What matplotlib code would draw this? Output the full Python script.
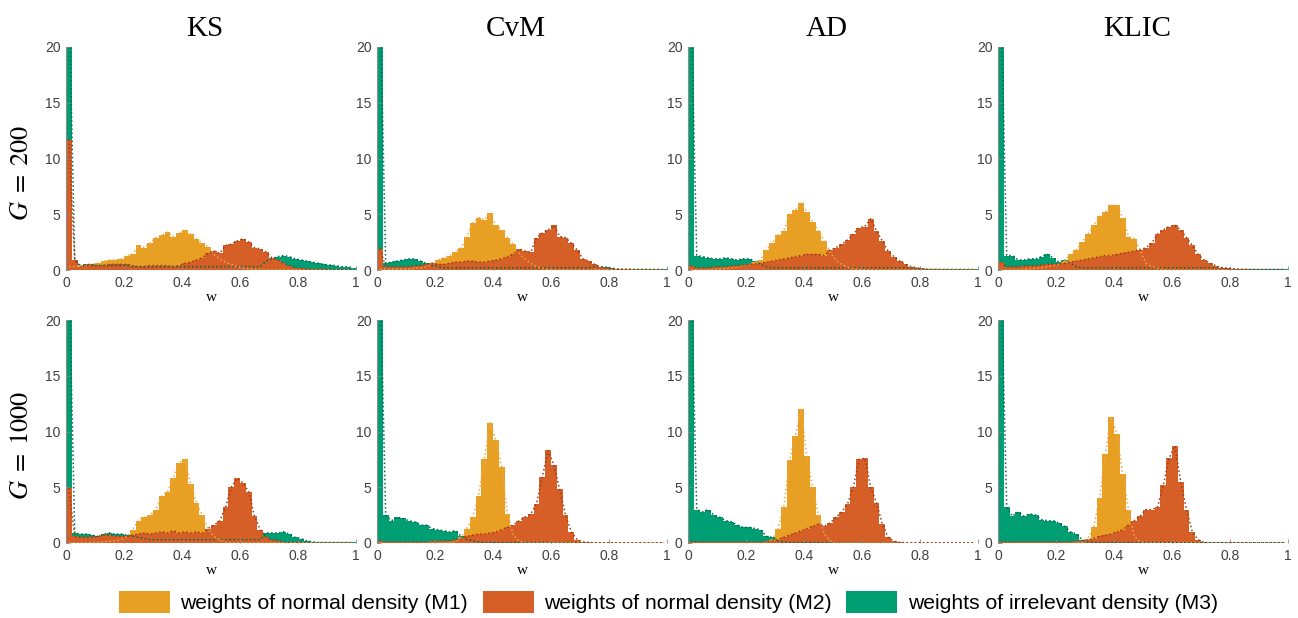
import numpy as np
import matplotlib
matplotlib.use('Agg')
import matplotlib.pyplot as plt
from matplotlib.patches import Patch

# histogram bin heights, 50 bins of width 0.02 on [0, 1]
# G = 200
ks200_m1 = [0.3, 0.3, 0.35, 0.4, 0.5, 0.6, 0.8, 0.9, 0.9, 1.0,
            1.3, 1.4, 2.2, 2.0, 2.4, 2.9, 3.1, 3.4, 3.0, 3.3,
            3.6, 3.2, 2.8, 2.4, 2.1, 1.4, 1.0, 0.7, 0.5, 0.3,
            0.2, 0.1, 0.05, 0.02, 0, 0, 0, 0, 0, 0,
            0, 0, 0, 0, 0, 0, 0, 0, 0, 0]
ks200_m2 = [11.7, 0.9, 0.3, 0.5, 0.5, 0.4, 0.4, 0.5, 0.5, 0.5,
            0.5, 0.4, 0.3, 0.3, 0.4, 0.4, 0.4, 0.4, 0.3, 0.4,
            0.6, 0.7, 0.9, 1.1, 1.5, 1.7, 1.5, 2.2, 2.3, 2.6,
            2.8, 2.5, 2.0, 1.9, 1.6, 1.1, 0.9, 0.6, 0.4, 0.2,
            0.15, 0.1, 0.05, 0.05, 0.05, 0.03, 0.03, 0.02, 0.02, 0.02]
ks200_m3 = [25, 0.9, 0.4, 0.4, 0.4, 0.4, 0.4, 0.4, 0.4, 0.4,
            0.4, 0.3, 0.3, 0.3, 0.3, 0.3, 0.3, 0.3, 0.3, 0.3,
            0.3, 0.3, 0.3, 0.3, 0.3, 0.3, 0.3, 0.3, 0.3, 0.3,
            0.3, 0.3, 0.3, 0.3, 0.8, 1.0, 1.2, 1.3, 1.2, 1.0,
            0.9, 0.8, 0.7, 0.6, 0.5, 0.45, 0.4, 0.3, 0.3, 0.2]

cvm200_m1 = [0.05, 0.05, 0.05, 0.1, 0.1, 0.1, 0.15, 0.2, 0.3, 0.6,
             0.9, 1.1, 1.3, 1.6, 2.0, 3.0, 4.2, 4.7, 4.5, 5.1,
             4.0, 3.6, 2.9, 2.3, 1.5, 1.0, 0.6, 0.3, 0.15, 0.05,
             0, 0, 0, 0, 0, 0, 0, 0, 0, 0,
             0, 0, 0, 0, 0, 0, 0, 0, 0, 0]
cvm200_m2 = [1.9, 0.3, 0.3, 0.3, 0.3, 0.3, 0.4, 0.4, 0.5, 0.6,
             0.5, 0.5, 0.6, 0.7, 0.7, 0.8, 0.8, 0.7, 0.7, 0.8,
             0.9, 1.0, 1.2, 1.4, 1.9, 1.7, 1.6, 2.9, 3.3, 3.6,
             4.0, 3.0, 2.9, 2.4, 1.8, 1.0, 0.8, 0.5, 0.3, 0.2,
             0.1, 0.05, 0.05, 0.05, 0.03, 0.03, 0.03, 0.02, 0.02, 0.02]
cvm200_m3 = [25, 0.6, 0.7, 0.8, 0.9, 1.0, 1.0, 0.8, 0.6, 0.4,
             0.3, 0.2, 0.2, 0.2, 0.2, 0.2, 0.2, 0.2, 0.2, 0.2,
             0.2, 0.2, 0.2, 0.2, 0.2, 0.2, 0.2, 0.2, 0.2, 0.2,
             0.2, 0.2, 0.2, 0.2, 0.2, 0.2, 0.2, 0.3, 0.3, 0.25,
             0.15, 0.1, 0.05, 0.05, 0.05, 0.05, 0.05, 0.05, 0.05, 0.05]

ad200_m1 = [0, 0, 0, 0, 0.05, 0.1, 0.15, 0.2, 0.3, 0.4,
            0.5, 0.7, 0.9, 1.8, 2.4, 3.1, 3.5, 5.0, 5.4, 6.0,
            5.2, 4.3, 3.5, 2.6, 1.6, 0.9, 0.5, 0.25, 0.1, 0.05,
            0, 0, 0, 0, 0, 0, 0, 0, 0, 0,
            0, 0, 0, 0, 0, 0, 0, 0, 0, 0]
ad200_m2 = [0.4, 0.2, 0.2, 0.2, 0.25, 0.3, 0.3, 0.35, 0.4, 0.45,
            0.5, 0.55, 0.6, 0.7, 0.8, 0.9, 1.0, 1.1, 1.2, 1.3,
            1.4, 1.4, 1.4, 1.3, 1.8, 2.0, 2.3, 2.7, 3.2, 3.8,
            3.9, 4.6, 3.5, 2.6, 1.7, 1.2, 0.8, 0.5, 0.3, 0.2,
            0.1, 0.05, 0.05, 0.03, 0.03, 0.02, 0.02, 0.02, 0.02, 0.02]
ad200_m3 = [25, 1.3, 1.2, 1.1, 1.0, 1.0, 1.1, 1.0, 0.9, 1.0,
            1.0, 0.8, 0.5, 0.3, 0.2, 0.2, 0.2, 0.2, 0.2, 0.2,
            0.2, 0.2, 0.2, 0.2, 0.2, 0.2, 0.2, 0.2, 0.2, 0.2,
            0.2, 0.2, 0.2, 0.2, 0.2, 0.2, 0.2, 0.2, 0.2, 0.15,
            0.1, 0.05, 0.05, 0.05, 0.05, 0.05, 0.05, 0.05, 0.05, 0.05]

klic200_m1 = [0, 0, 0, 0, 0.05, 0.1, 0.15, 0.2, 0.3, 0.4,
              0.5, 0.8, 1.4, 1.8, 2.5, 3.2, 4.0, 4.8, 5.2, 5.8,
              5.8, 4.7, 3.0, 2.8, 1.8, 0.6, 0.3, 0.15, 0.05, 0,
              0, 0, 0, 0, 0, 0, 0, 0, 0, 0,
              0, 0, 0, 0, 0, 0, 0, 0, 0, 0]
klic200_m2 = [0.7, 0.3, 0.3, 0.3, 0.35, 0.4, 0.4, 0.45, 0.5, 0.5,
              0.55, 0.6, 0.7, 0.8, 0.9, 1.0, 1.1, 1.2, 1.3, 1.3,
              1.4, 1.5, 1.6, 1.7, 1.8, 2.0, 2.4, 3.2, 3.6, 3.9,
              4.0, 3.6, 2.9, 2.2, 1.4, 0.9, 0.6, 0.4, 0.2, 0.15,
              0.1, 0.05, 0.05, 0.03, 0.03, 0.02, 0.02, 0.02, 0.02, 0.02]
klic200_m3 = [25, 1.3, 1.3, 0.9, 0.9, 1.0, 1.0, 1.2, 1.4, 1.1,
              0.7, 0.9, 0.6, 0.3, 0.2, 0.2, 0.2, 0.2, 0.2, 0.2,
              0.2, 0.2, 0.2, 0.2, 0.2, 0.2, 0.2, 0.2, 0.2, 0.2,
              0.2, 0.2, 0.2, 0.2, 0.2, 0.2, 0.2, 0.2, 0.2, 0.15,
              0.1, 0.05, 0.05, 0.05, 0.05, 0.05, 0.05, 0.05, 0.05, 0.05]

# G = 1000
ks1000_m1 = [0, 0, 0, 0, 0.05, 0.05, 0.1, 0.15, 0.2, 0.3,
             0.6, 1.2, 2.0, 2.3, 2.5, 3.0, 4.2, 4.6, 5.8, 7.2,
             7.5, 5.3, 3.6, 2.5, 1.3, 0.6, 0.25, 0.1, 0, 0,
             0, 0, 0, 0, 0, 0, 0, 0, 0, 0,
             0, 0, 0, 0, 0, 0, 0, 0, 0, 0]
ks1000_m2 = [4.9, 0.6, 0.5, 0.5, 0.5, 0.6, 0.7, 0.7, 0.6, 0.6,
             0.6, 0.7, 0.8, 0.9, 0.8, 0.9, 1.0, 0.9, 1.1, 0.9,
             1.0, 0.9, 1.0, 0.9, 1.3, 1.6, 2.0, 3.2, 5.0, 5.8,
             5.4, 4.6, 2.4, 1.2, 0.5, 0.3, 0.2, 0.1, 0.05, 0.05,
             0.05, 0.03, 0.03, 0.02, 0.02, 0.02, 0.02, 0.02, 0.02, 0.02]
ks1000_m3 = [25, 0.9, 0.8, 0.8, 0.7, 0.6, 0.8, 0.9, 0.8, 0.8,
             0.7, 0.6, 0.5, 0.4, 0.3, 0.3, 0.3, 0.3, 0.3, 0.3,
             0.3, 0.3, 0.3, 0.3, 0.3, 0.3, 0.3, 0.3, 0.3, 0.3,
             0.3, 0.3, 0.3, 0.3, 0.9, 0.9, 0.9, 1.0, 0.8, 0.5,
             0.4, 0.2, 0.1, 0.05, 0.05, 0.05, 0.05, 0.05, 0.05, 0.05]

cvm1000_m1 = [0, 0, 0, 0, 0, 0, 0, 0, 0, 0,
              0, 0, 0.05, 0.1, 0.5, 1.3, 2.3, 4.2, 7.5, 10.8,
              9.2, 6.8, 2.6, 0.7, 0.2, 0, 0, 0, 0, 0,
              0, 0, 0, 0, 0, 0, 0, 0, 0, 0,
              0, 0, 0, 0, 0, 0, 0, 0, 0, 0]
cvm1000_m2 = [0.2, 0.1, 0.1, 0.1, 0.1, 0.1, 0.1, 0.1, 0.1, 0.15,
              0.15, 0.2, 0.2, 0.3, 0.4, 0.6, 0.7, 0.8, 0.8, 0.9,
              1.0, 1.2, 1.4, 1.6, 2.0, 2.3, 2.6, 3.5, 5.9, 8.3,
              7.0, 4.8, 2.5, 1.0, 0.3, 0.1, 0.05, 0.03, 0.02, 0.02,
              0.02, 0.02, 0.02, 0.02, 0.02, 0.02, 0.02, 0.02, 0.02, 0.02]
cvm1000_m3 = [25, 2.5, 2.0, 2.3, 2.2, 2.0, 1.9, 1.6, 1.6, 1.3,
              1.2, 1.1, 1.0, 1.1, 0.6, 0.3, 0.2, 0.1, 0.05, 0.05,
              0.05, 0.05, 0.05, 0.05, 0.05, 0.05, 0.05, 0.05, 0.05, 0.05,
              0.02, 0.02, 0.02, 0.02, 0.02, 0.02, 0.02, 0.02, 0.02, 0.02,
              0.02, 0.02, 0.02, 0.02, 0.02, 0.02, 0.02, 0.02, 0.02, 0.02]

ad1000_m1 = [0, 0, 0, 0, 0, 0, 0, 0, 0, 0,
             0, 0, 0, 0.05, 0.3, 1.3, 3.2, 7.4, 9.6, 12.0,
             7.8, 5.0, 2.5, 0.8, 0.2, 0, 0, 0, 0, 0,
             0, 0, 0, 0, 0, 0, 0, 0, 0, 0,
             0, 0, 0, 0, 0, 0, 0, 0, 0, 0]
ad1000_m2 = [0.1, 0.1, 0.1, 0.1, 0.1, 0.1, 0.1, 0.1, 0.1, 0.1,
             0.1, 0.1, 0.1, 0.15, 0.2, 0.3, 0.5, 0.7, 0.9, 1.1,
             1.3, 1.5, 1.7, 1.5, 1.8, 2.3, 2.8, 3.5, 5.0, 7.5,
             7.6, 5.0, 3.6, 1.7, 0.5, 0.15, 0.05, 0.03, 0.02, 0.02,
             0.02, 0.02, 0.02, 0.02, 0.02, 0.02, 0.02, 0.02, 0.02, 0.02]
ad1000_m3 = [25, 3.0, 2.8, 3.0, 2.5, 2.3, 2.0, 1.9, 1.6, 1.4,
             1.4, 1.3, 1.2, 0.6, 0.5, 0.2, 0.1, 0.05, 0.05, 0.05,
             0.05, 0.05, 0.05, 0.05, 0.05, 0.05, 0.05, 0.05, 0.05, 0.05,
             0.02, 0.02, 0.02, 0.02, 0.02, 0.02, 0.02, 0.02, 0.02, 0.02,
             0.02, 0.02, 0.02, 0.02, 0.02, 0.02, 0.02, 0.02, 0.02, 0.02]

klic1000_m1 = [0, 0, 0, 0, 0, 0, 0, 0, 0, 0,
               0, 0, 0, 0, 0.05, 0.4, 1.4, 4.0, 8.0, 11.3,
               9.8, 6.2, 3.0, 0.6, 0.1, 0, 0, 0, 0, 0,
               0, 0, 0, 0, 0, 0, 0, 0, 0, 0,
               0, 0, 0, 0, 0, 0, 0, 0, 0, 0]
klic1000_m2 = [0.1, 0.1, 0.1, 0.1, 0.1, 0.1, 0.1, 0.1, 0.1, 0.1,
               0.1, 0.1, 0.1, 0.15, 0.2, 0.3, 0.4, 0.6, 0.7, 0.8,
               1.0, 1.2, 1.6, 2.0, 2.4, 3.0, 3.0, 3.2, 5.2, 7.6,
               8.7, 5.5, 3.0, 1.0, 0.3, 0.05, 0.03, 0.02, 0.02, 0.02,
               0.02, 0.02, 0.02, 0.02, 0.02, 0.02, 0.02, 0.02, 0.02, 0.02]
klic1000_m3 = [25, 3.2, 2.4, 2.8, 2.4, 2.6, 2.5, 2.1, 2.0, 2.0,
               1.8, 1.5, 1.0, 0.8, 0.3, 0.1, 0.05, 0.05, 0.05, 0.05,
               0.05, 0.05, 0.05, 0.05, 0.05, 0.05, 0.05, 0.05, 0.05, 0.05,
               0.02, 0.02, 0.02, 0.02, 0.02, 0.02, 0.02, 0.02, 0.02, 0.02,
               0.02, 0.02, 0.02, 0.02, 0.02, 0.02, 0.02, 0.02, 0.02, 0.02]

tests = ['KS', 'CvM', 'AD', 'KLIC']
row_labels = [r'$G\;=\;200$', r'$G\;=\;1000$']
legend_labels = ['weights of normal density (M1)',
                 'weights of normal density (M2)',
                 'weights of irrelevant density (M3)']
xticks = [0, 0.2, 0.4, 0.6, 0.8, 1]
yticks = [0, 5, 10, 15, 20]

data = [
    [(ks200_m1, ks200_m2, ks200_m3), (cvm200_m1, cvm200_m2, cvm200_m3),
     (ad200_m1, ad200_m2, ad200_m3), (klic200_m1, klic200_m2, klic200_m3)],
    [(ks1000_m1, ks1000_m2, ks1000_m3), (cvm1000_m1, cvm1000_m2, cvm1000_m3),
     (ad1000_m1, ad1000_m2, ad1000_m3), (klic1000_m1, klic1000_m2, klic1000_m3)],
]

fill_colors = ['#E8A024', '#D55F26', '#009E73']
line_colors = ['#F0A848', '#9E3A14', '#00664A']

edges = np.linspace(0, 1, 51)
centers = (edges[:-1] + edges[1:]) / 2

plt.rcParams['font.family'] = ['Liberation Sans', 'DejaVu Sans']
plt.rcParams['mathtext.fontset'] = 'stix'

fig = plt.figure(figsize=(12.98, 6.18), dpi=100)

W, H = 1298.0, 618.0
lefts = [66, 377, 688, 998]
tops = [47, 320]
aw, ah = 290, 223

for r in range(2):
    for c in range(4):
        ax = fig.add_axes([lefts[c] / W, 1 - (tops[r] + ah) / H, aw / W, ah / H])
        m1, m2, m3 = data[r][c]
        # drawing order: irrelevant density behind, then M1, then M2
        for vals, k in [(m3, 2), (m1, 0), (m2, 1)]:
            ax.stairs(vals, edges, fill=True, color=fill_colors[k], linewidth=0)
        for vals, k in [(m3, 2), (m1, 0), (m2, 1)]:
            ax.plot(centers, vals, linestyle=':', color=line_colors[k], linewidth=1.1)
        ax.set_xlim(0, 1)
        ax.set_ylim(0, 20)
        ax.set_xticks(xticks)
        ax.set_xticklabels(['0', '0.2', '0.4', '0.6', '0.8', '1'])
        ax.set_yticks(yticks)
        ax.tick_params(direction='in', length=3, width=0.6, colors='#888888',
                       labelcolor='#404040', labelsize=10, pad=4)
        for s in ['top', 'right', 'bottom']:
            ax.spines[s].set_visible(False)
        ax.spines['left'].set_color('#8c8c8c')
        ax.spines['left'].set_linewidth(0.8)
        ax.set_xlabel('w', family='Liberation Serif', fontsize=11, labelpad=1)
        if r == 0:
            ax.set_title(tests[c], family='Liberation Serif', fontsize=21,
                         pad=8, x=0.48)

for r in range(2):
    yc = 1 - (tops[r] + ah / 2 + 14) / H
    fig.text(0.016, yc, row_labels[r], rotation=90, va='center', ha='center',
             fontsize=19)

handles = [Patch(facecolor=fill_colors[k], edgecolor='none') for k in range(3)]
fig.legend(handles, legend_labels, loc='center', bbox_to_anchor=(0.515, 0.026),
           ncol=3, frameon=False, fontsize=15.2, handlelength=2.4,
           handleheight=1.2, handletextpad=0.5, columnspacing=0.7)

fig.savefig('out.png', dpi=100)
